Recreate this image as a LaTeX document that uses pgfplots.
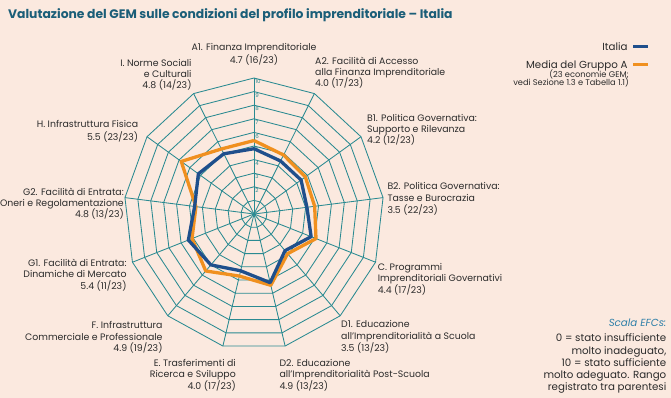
\documentclass[border=0pt]{standalone}
\usepackage{pgfplots}
\pgfplotsset{compat=1.18}
\usepackage{pgfplotstable}
\usepackage{fontspec}
\setmainfont{Poppins}
\definecolor{bg}{HTML}{FBE9DF}
\definecolor{gridc}{HTML}{2A8A91}
\definecolor{itblue}{HTML}{1F4F8C}
\definecolor{grorange}{HTML}{F0901F}
\definecolor{titlec}{HTML}{1B5E78}
\definecolor{txt}{HTML}{2B2B2B}
\definecolor{scalec}{HTML}{2E7FA8}

% angles of the 13 axes (clockwise from top), closed; outer ring radius
\pgfplotstableread{
a r
90 10
62.3077 10
34.6154 10
6.9231 10
-20.7692 10
-48.4615 10
-76.1538 10
-103.8462 10
-131.5385 10
-159.2308 10
-186.9231 10
-214.6154 10
-242.3077 10
-270 10
}\angtab

% Italia
\pgfplotstableread{
a r
90 4.8
62.3077 4.4
34.6154 4.4
6.9231 4.1
-20.7692 4.7
-48.4615 3.6
-76.1538 5.2
-103.8462 4.3
-131.5385 5.0
-159.2308 5.4
-186.9231 4.6
-214.6154 5.2
-242.3077 5.0
-270 4.8
}\italiatab

% Media del Gruppo A
\pgfplotstableread{
a r
90 5.4
62.3077 4.9
34.6154 4.8
6.9231 4.7
-20.7692 5.1
-48.4615 3.9
-76.1538 5.4
-103.8462 4.7
-131.5385 5.6
-159.2308 5.1
-186.9231 4.5
-214.6154 6.8
-242.3077 5.4
-270 5.4
}\grupptab

\begin{document}
\begin{tikzpicture}[
  lab/.style={font=\fontsize{9.4}{11}\selectfont, text=txt, inner sep=0},
  sc/.style={font=\fontsize{10.3}{12}\selectfont, text=txt, inner sep=0}]
\useasboundingbox (0,0) rectangle (671bp,398bp);
\fill[bg] (0,0) rectangle (671bp,398bp);

\begin{axis}[
  at={(254bp,184bp)}, anchor=center,
  scale only axis, width=260bp, height=272bp,
  xmin=-10, xmax=10, ymin=-10, ymax=10,
  hide axis, clip=false]
  % rings
  \pgfplotsinvokeforeach{1,...,10}{
    \addplot[gridc, line width=0.85bp, data cs=polar, no markers] table[x=a, y expr=#1] {\angtab};
  }
  % spokes
  \pgfplotsinvokeforeach{90,62.3077,34.6154,6.9231,-20.7692,-48.4615,-76.1538,-103.8462,-131.5385,-159.2308,-186.9231,-214.6154,-242.3077}{
    \addplot[gridc, line width=0.85bp, data cs=polar, no markers] coordinates {(#1,0) (#1,10)};
  }
  % ring numbers
  \pgfplotsinvokeforeach{2,...,10}{
    \node[anchor=north west, font=\fontsize{5.5}{6}\selectfont, text=gridc, inner sep=0, xshift=1.2bp, yshift=-1.5bp] at (axis cs:0,#1) {#1};
  }
  \addplot[grorange, line width=3.3bp, data cs=polar, no markers, line join=round] table[x=a, y=r] {\grupptab};
  \addplot[itblue, line width=3.3bp, data cs=polar, no markers, line join=round] table[x=a, y=r] {\italiatab};
\end{axis}

% title
\node[anchor=base west, font=\fontsize{12.4}{15}\selectfont\bfseries, text=titlec, inner sep=0] at (8bp,379bp) {Valutazione del GEM sulle condizioni del profilo imprenditoriale – Italia};

% A1
\node[lab, anchor=base] at (254bp,347bp) {A1. Finanza Imprenditoriale};
\node[lab, anchor=base] at (254bp,334bp) {4.7 (16/23)};
% A2
\node[lab, anchor=base west] at (315bp,333.8bp) {A2. Facilità di Accesso};
\node[lab, anchor=base west] at (315bp,322.5bp) {alla Finanza Imprenditoriale};
\node[lab, anchor=base west] at (315bp,311.2bp) {4.0 (17/23)};
% B1
\node[lab, anchor=base west] at (367bp,276.8bp) {B1. Politica Governativa:};
\node[lab, anchor=base west] at (367bp,265.8bp) {Supporto e Rilevanza};
\node[lab, anchor=base west] at (367bp,254.5bp) {4.2 (12/23)};
% B2
\node[lab, anchor=base west] at (387.3bp,208.5bp) {B2. Politica Governativa:};
\node[lab, anchor=base west] at (387.3bp,196.8bp) {Tasse e Burocrazia};
\node[lab, anchor=base west] at (387.3bp,184.5bp) {3.5 (22/23)};
% C
\node[lab, anchor=base west] at (377.7bp,127.8bp) {C. Programmi};
\node[lab, anchor=base west] at (377.7bp,116.2bp) {Imprenditoriali Governativi};
\node[lab, anchor=base west] at (377.7bp,104.5bp) {4.4 (17/23)};
% D1
\node[lab, anchor=base west] at (341bp,70.5bp) {D1. Educazione};
\node[lab, anchor=base west] at (341bp,58.5bp) {all'Imprenditorialità a Scuola};
\node[lab, anchor=base west] at (341bp,46.8bp) {3.5 (13/23)};
% D2
\node[lab, anchor=base west] at (279.3bp,31.8bp) {D2. Educazione};
\node[lab, anchor=base west] at (279.3bp,20.2bp) {all'Imprenditorialità Post-Scuola};
\node[lab, anchor=base west] at (279.3bp,8.5bp) {4.9 (13/23)};
% E
\node[lab, anchor=base east] at (236bp,31.8bp) {E. Trasferimenti di};
\node[lab, anchor=base east] at (236bp,20.2bp) {Ricerca e Sviluppo};
\node[lab, anchor=base east] at (236bp,8.5bp) {4.0 (17/23)};
% F
\node[lab, anchor=base east] at (162.7bp,69.2bp) {F. Infrastruttura};
\node[lab, anchor=base east] at (162.7bp,57.8bp) {Commerciale e Professionale};
\node[lab, anchor=base east] at (162.7bp,46.8bp) {4.9 (19/23)};
% G1
\node[lab, anchor=base east] at (126.7bp,131.2bp) {G1. Facilità di Entrata:};
\node[lab, anchor=base east] at (126.7bp,120.2bp) {Dinamiche di Mercato};
\node[lab, anchor=base east] at (126.7bp,108.5bp) {5.4 (11/23)};
% G2
\node[lab, anchor=base east] at (124bp,202.2bp) {G2. Facilità di Entrata:};
\node[lab, anchor=base east] at (124bp,191.2bp) {Oneri e Regolamentazione};
\node[lab, anchor=base east] at (124bp,180.2bp) {4.8 (13/23)};
% H
\node[lab, anchor=base east] at (138.3bp,270bp) {H. Infrastruttura Fisica};
\node[lab, anchor=base east] at (138.3bp,257bp) {5.5 (23/23)};
% I
\node[lab, anchor=base east] at (191.7bp,331.2bp) {I. Norme Sociali};
\node[lab, anchor=base east] at (191.7bp,320.5bp) {e Culturali};
\node[lab, anchor=base east] at (191.7bp,309.5bp) {4.8 (14/23)};

% legend
\node[anchor=base east, font=\fontsize{10.3}{12}\selectfont, text=txt, inner sep=0] at (627.7bp,347.5bp) {Italia};
\draw[itblue, line width=3.5bp] (633bp,351.3bp) -- (648bp,351.3bp);
\node[anchor=base east, font=\fontsize{10.3}{12}\selectfont, text=txt, inner sep=0] at (627.7bp,329.5bp) {Media del Gruppo A};
\draw[grorange, line width=3.5bp] (633bp,333.3bp) -- (648bp,333.3bp);
\node[anchor=base east, font=\fontsize{8.3}{9}\selectfont, text=txt, inner sep=0] at (629bp,320.5bp) {(23 economie GEM;};
\node[anchor=base east, font=\fontsize{8.3}{9}\selectfont, text=txt, inner sep=0] at (629bp,312.8bp) {vedi Sezione 1.3 e Tabella 1.1)};

% scale note
\node[sc, anchor=base east, text=scalec, font=\fontsize{10.3}{12}\selectfont\itshape] at (666.5bp,71bp) {Scala EFCs:};
\node[sc, anchor=base east] at (666.5bp,56.5bp) {0 = stato insufficiente};
\node[sc, anchor=base east] at (666.5bp,43.5bp) {molto inadeguato,};
\node[sc, anchor=base east] at (666.5bp,31.2bp) {10 = stato sufficiente};
\node[sc, anchor=base east] at (666.5bp,19.2bp) {molto adeguato. Rango};
\node[sc, anchor=base east] at (666.5bp,7.2bp) {registrato tra parentesi};
\end{tikzpicture}
\end{document}
